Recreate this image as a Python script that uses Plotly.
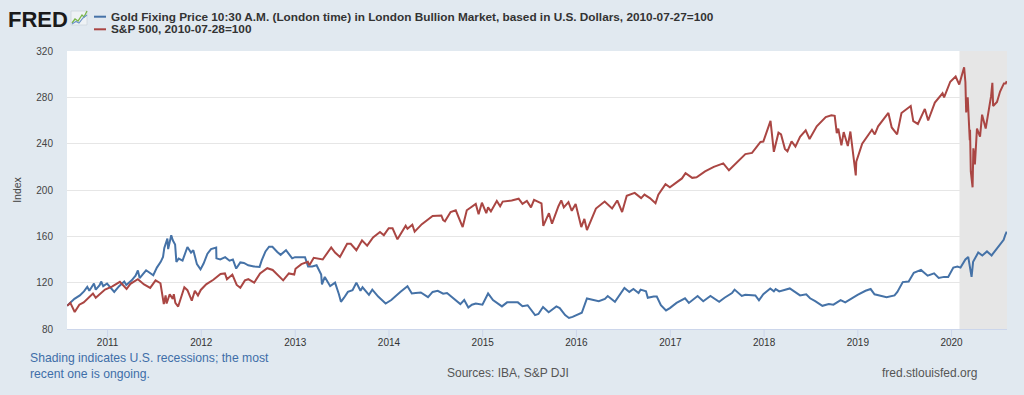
import plotly.graph_objects as go

# ---------------- data ----------------
gold_dates = [
    "2010-07-27","2010-08-10","2010-08-25","2010-09-15","2010-10-01","2010-10-14","2010-10-22",
    "2010-11-09","2010-11-16","2010-12-01","2010-12-07","2010-12-15","2010-12-30","2011-01-27",
    "2011-02-15","2011-03-07","2011-03-15","2011-04-05","2011-04-20","2011-04-29","2011-05-06",
    "2011-05-31","2011-06-10","2011-06-28","2011-07-12","2011-07-27","2011-08-05","2011-08-10",
    "2011-08-22","2011-08-25","2011-09-06","2011-09-12","2011-09-21","2011-09-26","2011-10-05",
    "2011-10-20","2011-11-08","2011-11-22","2011-12-01","2011-12-15","2011-12-29","2012-01-10",
    "2012-01-25","2012-02-08","2012-02-28","2012-02-29","2012-03-15","2012-04-03","2012-04-20",
    "2012-05-03","2012-05-16","2012-06-01","2012-06-15","2012-07-02","2012-07-24","2012-08-15",
    "2012-08-23","2012-09-07","2012-09-21","2012-10-04","2012-10-23","2012-11-05","2012-11-26",
    "2012-12-20","2012-12-31","2013-01-23","2013-02-08","2013-02-20","2013-03-08","2013-03-25",
    "2013-04-12","2013-04-15","2013-04-26","2013-05-17","2013-06-05","2013-06-20","2013-06-28",
    "2013-07-10","2013-07-25","2013-08-12","2013-08-27","2013-09-12","2013-09-20","2013-10-15",
    "2013-10-28","2013-11-20","2013-12-19","2014-01-10","2014-01-27","2014-02-14","2014-03-14",
    "2014-03-31","2014-04-15","2014-05-05","2014-06-02","2014-06-20","2014-07-10","2014-07-31",
    "2014-08-15","2014-09-10","2014-10-06","2014-10-21","2014-11-06","2014-11-20","2014-12-05",
    "2014-12-31","2015-01-22","2015-02-10","2015-03-17","2015-04-06","2015-05-18","2015-06-05",
    "2015-06-25","2015-07-24","2015-08-06","2015-08-24","2015-09-15","2015-10-15","2015-10-28",
    "2015-11-18","2015-12-03","2015-12-17","2016-01-05","2016-01-22","2016-02-11","2016-02-29",
    "2016-03-28","2016-04-21","2016-05-02","2016-05-30","2016-06-24","2016-07-06","2016-07-25",
    "2016-08-10","2016-08-30","2016-09-07","2016-09-28","2016-10-05","2016-10-28","2016-11-09",
    "2016-11-25","2016-12-15","2016-12-30","2017-01-25","2017-02-27","2017-03-14","2017-04-17",
    "2017-05-09","2017-06-06","2017-07-10","2017-07-31","2017-08-29","2017-09-08","2017-10-06",
    "2017-10-20","2017-11-28","2017-12-12","2017-12-29","2018-01-25","2018-02-08","2018-02-15",
    "2018-03-01","2018-04-11","2018-04-30","2018-05-21","2018-06-14","2018-06-29","2018-07-19",
    "2018-08-16","2018-09-10","2018-09-28","2018-10-26","2018-11-13","2018-12-31","2019-01-31",
    "2019-02-20","2019-03-07","2019-04-23","2019-05-24","2019-06-04","2019-06-25","2019-07-18",
    "2019-08-07","2019-09-04","2019-09-30","2019-10-25","2019-11-12","2019-12-03","2019-12-19",
    "2020-01-08","2020-01-24","2020-02-05","2020-02-24","2020-03-06","2020-03-19","2020-03-25",
    "2020-04-14","2020-04-30","2020-05-18","2020-06-05","2020-06-30","2020-07-22","2020-07-28",
    "2020-08-03",
]
gold_values = [
    100, 103, 106, 109, 112.5, 116.4, 113,
    119.3, 114, 117.8, 121, 117, 119.3, 112,
    117, 121, 118, 122, 126, 130.5, 124,
    130.7, 129, 126.4, 133, 138, 142.2, 150,
    158, 149, 160.9, 156.6, 153, 138, 140.8,
    139, 150.8, 146, 148, 136, 131.5, 136.5,
    145, 149, 150.3, 141, 140, 142, 139,
    140, 132.2, 137.5, 137, 135, 134, 133.6,
    139, 147, 151, 151, 146.5, 144, 148,
    141, 142, 142.2, 142, 134, 134, 135,
    127, 118.5, 125, 117, 120, 110, 103.5,
    107, 112, 113.5, 120, 113, 116, 109.5,
    114, 108, 102, 105, 108, 112, 117,
    110.7, 111, 111.5, 107.5, 112, 113, 110.5,
    111, 106, 101.5, 105, 98.5, 101, 102,
    101, 110.7, 105, 99.5, 103, 103, 99.7,
    100.5, 92, 93, 99, 94.5, 99.5, 98,
    92, 89.5, 90.5, 92, 94, 106.4, 105.5,
    104, 106, 108.5, 103.5, 112, 115.5, 112,
    114.5, 111, 114, 112.5, 107, 108, 108,
    100.5, 96, 98, 102.5, 106.5, 102.5, 108.5,
    104, 108.5, 103.5, 107, 111, 114, 108.5,
    109.5, 109, 104.8, 110, 115, 112.5, 114.5,
    112.5, 115, 112, 109, 110, 106.5, 104,
    100, 101.5, 101, 105, 103, 109.5, 113,
    114.5, 110, 107.5, 109, 112, 120.5, 121,
    128.5, 131, 126, 128, 124, 125, 125,
    133, 134, 133, 140, 142.2, 125, 138,
    146, 143.5, 147, 143.5, 151, 157, 161,
    164,
]

spx_dates = [
    "2010-07-28","2010-08-09","2010-08-26","2010-09-13","2010-09-30","2010-10-15","2010-11-05",
    "2010-11-16","2010-12-01","2010-12-22","2011-01-18","2011-02-18","2011-03-16","2011-03-31",
    "2011-04-29","2011-05-23","2011-06-16","2011-07-07","2011-07-26","2011-08-08","2011-08-15",
    "2011-08-19","2011-08-31","2011-09-12","2011-09-16","2011-09-22","2011-10-03","2011-10-27",
    "2011-11-08","2011-11-25","2011-12-07","2011-12-19","2011-12-30","2012-01-20","2012-02-17",
    "2012-03-16","2012-04-02","2012-04-10","2012-05-01","2012-05-18","2012-06-01","2012-06-19",
    "2012-07-02","2012-07-25","2012-08-17","2012-09-14","2012-10-05","2012-10-25","2012-11-15",
    "2012-12-07","2012-12-28","2013-01-02","2013-01-25","2013-02-19","2013-02-25","2013-03-14",
    "2013-04-02","2013-04-18","2013-05-21","2013-06-05","2013-06-24","2013-07-22","2013-08-05",
    "2013-08-27","2013-09-18","2013-10-08","2013-10-31","2013-11-27","2013-12-12","2013-12-31",
    "2014-01-15","2014-02-03","2014-03-07","2014-03-14","2014-04-02","2014-04-11","2014-05-09",
    "2014-05-30","2014-06-20","2014-07-24","2014-07-31","2014-08-07","2014-08-29","2014-09-18",
    "2014-10-15","2014-10-31","2014-11-28","2014-12-05","2014-12-16","2014-12-29","2015-01-15",
    "2015-01-22","2015-02-02","2015-02-25","2015-03-10","2015-03-20","2015-04-24","2015-05-21",
    "2015-06-05","2015-06-22","2015-07-08","2015-07-20","2015-08-18","2015-08-25","2015-09-16",
    "2015-09-28","2015-10-23","2015-11-03","2015-11-13","2015-12-01","2015-12-14","2015-12-29",
    "2016-01-20","2016-02-01","2016-02-11","2016-03-17","2016-04-20","2016-05-19","2016-06-08",
    "2016-06-27","2016-07-15","2016-08-15","2016-09-09","2016-09-22","2016-10-13","2016-11-04",
    "2016-11-15","2016-12-13","2016-12-30","2017-01-26","2017-02-15","2017-03-01","2017-03-27",
    "2017-04-13","2017-05-16","2017-06-19","2017-07-26","2017-08-17","2017-09-29","2017-10-20",
    "2017-11-15","2017-12-18","2017-12-29","2018-01-12","2018-01-26","2018-02-08","2018-02-26",
    "2018-03-08","2018-03-23","2018-04-02","2018-04-18","2018-05-03","2018-05-21","2018-06-12",
    "2018-06-27","2018-07-25","2018-08-29","2018-09-20","2018-10-03","2018-10-11","2018-10-17",
    "2018-10-29","2018-11-07","2018-11-23","2018-12-03","2018-12-24","2018-12-26","2019-01-18",
    "2019-02-25","2019-03-08","2019-03-21","2019-04-30","2019-05-13","2019-06-03","2019-06-20",
    "2019-07-26","2019-08-05","2019-08-23","2019-09-19","2019-10-02","2019-10-28","2019-11-27",
    "2019-12-03","2019-12-27","2020-01-17","2020-01-31","2020-02-19","2020-02-24","2020-02-27",
    "2020-03-04","2020-03-12","2020-03-13","2020-03-16","2020-03-23","2020-03-26","2020-04-01",
    "2020-04-09","2020-04-21","2020-04-29","2020-05-13","2020-06-03","2020-06-08","2020-06-11",
    "2020-06-26","2020-07-08","2020-07-23","2020-07-30","2020-08-03",
]
spx_values = [
    100, 102.5, 94.7, 101, 103, 106, 110.7,
    107, 110, 114, 116.5, 120.7, 114.5, 119,
    123, 118.5, 115.5, 122, 119.5, 101.5, 109,
    102, 110, 106, 110, 102.5, 99.4, 116,
    113.5, 104.5, 113, 109, 113.7, 118.6, 122.5,
    127.5, 128, 123, 127, 118, 115.6, 122,
    123, 120, 128, 132.5, 131, 127, 122,
    128, 127, 132, 136, 138, 135, 141.5,
    141, 140, 150.5, 146, 142.2, 153.5, 153.5,
    148, 156.5, 152, 159, 163.7, 161, 167,
    167, 157.4, 169.2, 166.5, 170, 164, 170.5,
    173.8, 177.5, 178, 174, 173, 181, 182.5,
    168, 182.5, 187, 188, 179, 189, 180,
    185, 181.5, 190.5, 186, 190, 191, 192.5,
    188, 190.5, 185, 191.5, 188.5, 169, 180,
    170.9, 186, 191, 185, 189.5, 182, 188,
    168, 175, 165.4, 184, 190, 184, 191,
    181, 195, 197.5, 193, 196, 193, 188.5,
    196, 205, 202.4, 206.7, 210, 214.5, 210.5,
    211, 216, 220, 223, 217, 226.5, 231,
    232, 241.5, 241.8, 250, 259.7, 233, 249.5,
    248, 235.5, 233.5, 242, 237.5, 246, 251.5,
    244, 255, 263, 264.5, 264, 249, 253,
    238.5, 250, 238, 250.5, 212.6, 224.5, 240,
    252, 248, 255, 266.5, 254, 248, 266.5,
    272.5, 259.5, 257, 270, 260, 275.5, 283.5,
    280, 293.5, 298, 291, 306, 293, 267,
    280, 243, 252, 216, 202.3, 236, 222,
    253, 246, 265, 253, 281, 292.5, 272.5,
    276, 285, 292, 292, 294,
]

y_ticks = [80, 120, 160, 200, 240, 280, 320]
x_tick_dates = ["2011-01-01","2012-01-01","2013-01-01","2014-01-01","2015-01-01",
                "2016-01-01","2017-01-01","2018-01-01","2019-01-01","2020-01-01"]
x_tick_labels = ["2011","2012","2013","2014","2015","2016","2017","2018","2019","2020"]
recession_start = "2020-02-01"
range_start, range_end = "2010-07-27", "2020-08-04"

gold_name = "Gold Fixing Price 10:30 A.M. (London time) in London Bullion Market, based in U.S. Dollars, 2010-07-27=100"
spx_name = "S&P 500, 2010-07-28=100"

# ---------------- layout geometry ----------------
W, H = 1024, 395
L, R, T, B = 67, 1007, 51, 329
BLUE, RED = "#4572a7", "#aa4643"
FONT = "Liberation Sans, Arial, sans-serif"

def px(x):  # pixel x -> paper
    return (x - L) / (R - L)

def py(y):  # pixel y -> paper
    return (B - y) / (B - T)

fig = go.Figure()
fig.add_trace(go.Scatter(x=gold_dates, y=gold_values, mode="lines", name=gold_name,
                         line=dict(color=BLUE, width=2)))
fig.add_trace(go.Scatter(x=spx_dates, y=spx_values, mode="lines", name=spx_name,
                         line=dict(color=RED, width=2)))

shapes = [
    dict(type="rect", xref="x", yref="paper", x0=recession_start, x1=range_end, y0=0, y1=1,
         fillcolor="#e6e6e6", line=dict(width=0), layer="below"),
    # legend swatches
    dict(type="line", xref="paper", yref="paper", x0=px(94), x1=px(106), y0=py(16.7), y1=py(16.7),
         line=dict(color=BLUE, width=2)),
    dict(type="line", xref="paper", yref="paper", x0=px(94), x1=px(106), y0=py(29.3), y1=py(29.3),
         line=dict(color=RED, width=2)),
    # small FRED chart icon
    dict(type="rect", xref="paper", yref="paper", x0=px(71), x1=px(87), y0=py(25), y1=py(11),
         fillcolor="#eef2f5", line=dict(color="#cdd5dc", width=0.8)),
    dict(type="path", xref="paper", yref="paper",
         path=f"M {px(72)},{py(23)} L {px(75)},{py(19)} L {px(78)},{py(21)} L {px(82)},{py(15)} L {px(84)},{py(17)} L {px(87)},{py(11)}",
         line=dict(color="#7ab648", width=1.3)),
    dict(type="path", xref="paper", yref="paper",
         path=f"M {px(72)},{py(24)} L {px(76)},{py(21.5)} L {px(79)},{py(23)} L {px(83)},{py(18)} L {px(87)},{py(15)}",
         line=dict(color="#6a93c8", width=1.1)),
]
# x-axis tick marks (drawn as shapes, 8 px long below the axis)
for d in x_tick_dates:
    shapes.append(dict(type="line", xref="x", yref="paper", x0=d, x1=d, y0=0, y1=py(337),
                       line=dict(color="#ccd6eb", width=1)))

annotations = [
    dict(text="<b>FRED</b>", x=px(6), y=py(19), xref="paper", yref="paper", xanchor="left",
         yanchor="middle", showarrow=False, font=dict(family=FONT, size=22, color="#1a1a1a")),
    dict(text="<b>" + gold_name + "</b>", x=px(109), y=py(16.7), xref="paper", yref="paper",
         xanchor="left", yanchor="middle", showarrow=False,
         font=dict(family=FONT, size=11.8, color="#333333")),
    dict(text="<b>" + spx_name + "</b>", x=px(109), y=py(29.3), xref="paper", yref="paper",
         xanchor="left", yanchor="middle", showarrow=False,
         font=dict(family=FONT, size=11.8, color="#333333")),
    dict(text="Shading indicates U.S. recessions; the most<br>recent one is ongoing.", x=px(28), y=py(365.5),
         xref="paper", yref="paper", xanchor="left", yanchor="middle", align="left", showarrow=False,
         font=dict(family=FONT, size=12.2, color="#3e6ea8")),
    dict(text="Sources: IBA, S&P DJI", x=px(507.5), y=py(373), xref="paper", yref="paper",
         xanchor="center", yanchor="middle", showarrow=False,
         font=dict(family=FONT, size=12, color="#555555")),
    dict(text="fred.stlouisfed.org", x=px(979), y=py(373), xref="paper", yref="paper",
         xanchor="right", yanchor="middle", showarrow=False,
         font=dict(family=FONT, size=12, color="#555555")),
]

fig.update_layout(
    width=W, height=H,
    margin=dict(l=L, r=W - R, t=T, b=H - B),
    paper_bgcolor="#e1e9f0", plot_bgcolor="#ffffff",
    showlegend=False,
    font=dict(family=FONT, size=11, color="#333333"),
    shapes=shapes, annotations=annotations,
    xaxis=dict(type="date", range=[range_start, range_end], tickvals=x_tick_dates,
               ticktext=x_tick_labels, showgrid=False, zeroline=False,
               ticks="", showline=True, linecolor="#ccd6eb", linewidth=1,
               ticklabelstandoff=4,
               tickfont=dict(family=FONT, size=10, color="#333333")),
    yaxis=dict(range=[80, 320], tickvals=y_ticks, showgrid=True, gridcolor="#e6e6e6",
               gridwidth=1, zeroline=False, showline=False, ticks="",
               ticklabelstandoff=13,
               tickfont=dict(family=FONT, size=10, color="#444444"),
               title=dict(text="Index", standoff=12,
                          font=dict(family=FONT, size=10.5, color="#444444"))),
)

fig.write_html("out.html", config={"displayModeBar": False},
               post_script="document.body.style.margin='0px';")
